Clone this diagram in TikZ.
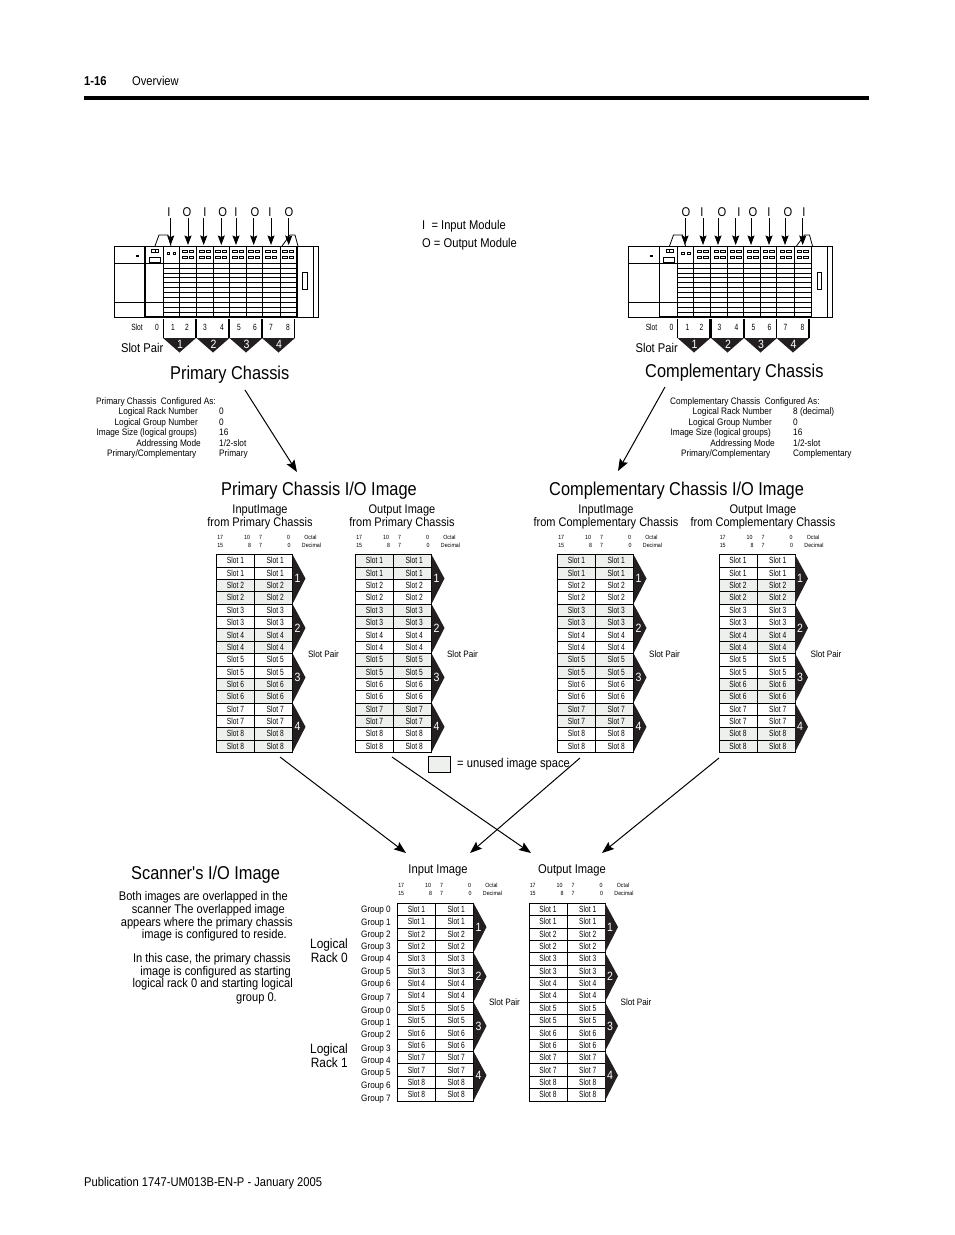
\documentclass[tikz,border=0pt]{standalone}
\usepackage{fontspec}
\setmainfont[FakeStretch=0.88]{Liberation Sans}
\newfontfamily\cellfont[FakeStretch=0.74]{Liberation Sans}
\newfontfamily\titlefont[FakeStretch=0.88]{Liberation Sans}
\usepackage{tikz}
\usetikzlibrary{positioning,arrows.meta}

\definecolor{unused}{HTML}{EEF0EE}
\definecolor{inkblack}{HTML}{231F20}
\newcommand{\fsize}[1]{\fontsize{#1}{#1}\selectfont}

% one image table: name, left x, top y, fill of odd slots, fill of even slots
\newcommand{\imagetable}[5]{
  \foreach \rowno in {1,...,16} {
    \pgfmathtruncatemacro{\slotno}{(\rowno+1)/2}
    \pgfmathsetmacro{\rowy}{#3+(\rowno-0.5)*12.36}
    \ifodd\slotno \def\cellfill{#4}\else \def\cellfill{#5}\fi
    \node[slotcell, fill=\cellfill] (#1l\rowno) at (#2+19,\rowy) {Slot \slotno\hspace{3pt}};
    \node[slotcell, fill=\cellfill] (#1r\rowno) at (#2+57,\rowy) {\hspace{3.5pt}Slot \slotno};
  }
  \foreach \pairno in {1,...,4} {
    \pgfmathsetmacro{\chevy}{#3+(\pairno-1)*49.44}
    \fill[inkblack] (#2+76,\chevy) -- (#2+89,\chevy+24) -- (#2+76,\chevy+49.44) -- cycle;
    \node[pairnum] (#1p\pairno) at (#2+81,\chevy+24) {\pairno};
  }
  \node[hdr] (#1a) at (#2+3.7,#3-17.5) {17};
  \node[hdr] (#1b) at (#2+30.6,#3-17.5) {10};
  \node[hdr] (#1c) at (#2+44,#3-17.5) {7};
  \node[hdr] (#1d) at (#2+72,#3-17.5) {0};
  \node[hdr] (#1e) at (#2+94,#3-17.5) {Octal};
  \node[hdr] (#1f) at (#2+3.7,#3-9.5) {15};
  \node[hdr] (#1g) at (#2+33,#3-9.5) {8};
  \node[hdr] (#1h) at (#2+44,#3-9.5) {7};
  \node[hdr] (#1i) at (#2+72.5,#3-9.5) {0};
  \node[hdr] (#1j) at (#2+95,#3-9.5) {Decimal};
  \node[small] (#1sp) at (#2+107,#3+99.5) {Slot Pair};
}

% the SLC chassis: name, x shift, list of arrow x / label x / label
\newcommand{\slcchassis}[3]{
  \begin{scope}[xshift=#2pt]
    \draw[thick] (114,246) rectangle (318,317);
    \draw[very thick] (145,246) -- (145,317) -- (297,317) -- (297,246);
    \draw (312.7,246) -- (312.7,317);
    \draw (114,263) -- (145,263) (114,302) -- (145,302) (145,263) -- (163,263) (145,302) -- (163,302);
    \draw[thick] (163,246) -- (163,317);
    \foreach \hy in {263,268,273,277,282,287,292,297,302,307,312} \draw (163,\hy) -- (297,\hy);
    \foreach \dx in {179,213,246,280} \draw (\dx,246) -- (\dx,317);
    \foreach \dx in {196,229,262} \draw[thick] (\dx,246) -- (\dx,317);
    \foreach \mx in {188,205,221,238,254,271,288} {
      \draw (\mx-5.5,250) rectangle ++(4.6,2.5) (\mx+0.9,250) rectangle ++(4.6,2.5);
      \draw (\mx-5.5,256) rectangle ++(4.6,2.5) (\mx+0.9,256) rectangle ++(4.6,2.5);
    }
    \draw (167,252) rectangle ++(2.5,2.5) (173,252) rectangle ++(2.5,2.5);
    \draw (151.5,249) rectangle ++(3.5,3) (155,249) rectangle ++(3.5,3) (149,257) rectangle ++(11,5);
    \fill (135.5,255) rectangle ++(3,2);
    \draw[thick] (302.5,272) rectangle (307,289);
    \draw[thick] (155,246) -- (159,235) -- (168,235) -- (171,246);
    \draw[thick] (282,246) -- (290,235) -- (295,235) -- (298,246);
    % slot numbers under the modules
    \node[chassisnum] (#1slot) at (137,327) {Slot};
    \node[chassisnum] (#1zero) at (157,327) {0};
    \foreach \sx/\sn in {173/1,187/2,205/3,222/4,239/5,255/6,271/7,288/8}
      \node[chassisnum] (#1s\sn) at (\sx,327) {\sn};
    \foreach \pn/\px in {1/163,2/196.5,3/229.5,4/262} {
      \draw (\px,319) -- (\px,338);
      \draw[very thick] (\px+32.5,319) -- (\px+32.5,338);
      \fill[inkblack] (\px,338) -- (\px+33,338) -- (\px+16.5,352.5) -- cycle;
      \node[pairnum] (#1n\pn) at (\px+17,344.5) {\pn};
    }
    \node[plain, anchor=east] (#1pair) at (163.5,348) {Slot Pair};
  \end{scope}
  \foreach \ax/\lx/\lab [count=\k] in {#3} {
    \node[plain] (#1lab\k) at (\lx,212) {\lab};
    \coordinate (#1top\k) at (\ax,218);
    \coordinate (#1mod\k) at (\ax,245);
    \draw[modarrow] (#1top\k) -- (#1mod\k);
  }
}

% the block of settings under a chassis: name, x shift, title, rack, role
\newcommand{\configblock}[5]{
  \begin{scope}[xshift=#2pt]
    \node[config, anchor=base west] (#1t) at (96,404) {#3};
    \node[config, anchor=base east] (#1a) at (198,414) {Logical Rack Number};
    \node[config, anchor=base west] (#1av) at (219,414) {#4};
    \node[config, anchor=base east] (#1b) at (198,425) {Logical Group Number};
    \node[config, anchor=base west] (#1bv) at (219,425) {0};
    \node[config, anchor=base east] (#1c) at (197,435) {Image Size (logical groups)};
    \node[config, anchor=base west] (#1cv) at (219,435) {16};
    \node[config, anchor=base east] (#1d) at (201,446) {Addressing Mode};
    \node[config, anchor=base west] (#1dv) at (219,446) {1/2-slot};
    \node[config, anchor=base east] (#1e) at (196.5,456.5) {Primary/Complementary};
    \node[config, anchor=base west] (#1ev) at (219,456.5) {#5};
  \end{scope}
}

\begin{document}
\begin{tikzpicture}[
  x=1pt, y=-1pt,
  plain/.style={inner sep=0pt, font=\fsize{12.7}},
  title/.style={inner sep=0pt, anchor=west, font=\titlefont\fsize{18.6}},
  caption/.style={inner sep=0pt, align=center, font=\fontsize{12.5}{13}\selectfont},
  small/.style={inner sep=0pt, font=\fsize{9.3}},
  chassisnum/.style={inner sep=0pt, font=\cellfont\fsize{9}},
  config/.style={inner sep=0pt, font=\fsize{9.4}},
  hdr/.style={inner sep=0pt, font=\fsize{6}},
  slotcell/.style={draw, inner sep=0pt, minimum width=38pt, minimum height=12.36pt, font=\cellfont\fsize{9}},
  pairnum/.style={inner sep=0pt, text=white, font=\fsize{12}},
  modarrow/.style={-{Stealth[length=9.5pt,width=7pt,inset=1.5pt]}, line width=0.9pt},
  bigarrow/.style={-{Stealth[length=12pt,width=9pt,inset=2pt]}, line width=1pt},
  paraline/.style={inner sep=0pt, anchor=base east, font=\fsize{12.6}}
]
  \useasboundingbox (0,0) rectangle (954,1235);

  % page head and foot
  \node[plain, anchor=west, font=\fsize{12.8}\bfseries] (pageno) at (84,81) {1-16};
  \node[plain, anchor=west] (section) at (132,81) {Overview};
  \coordinate (ruleleft) at (84,98);
  \coordinate (ruleright) at (869,98);
  \draw[line width=4pt] (ruleleft) -- (ruleright);
  \node[plain, anchor=west] (foot) at (84,1183) {Publication 1747-UM013B-EN-P - January 2005};

  % chassis
  \slcchassis{pc}{0}{170.7/169/I,188/187/O,203.7/205/I,221.3/222.7/O,236/236/I,253.7/255/O,271/270/I,288.7/289/O}
  \slcchassis{cc}{514.5}{685/686/O,703/702/I,718/722/O,735.7/739/I,751/753/O,769/769/I,785/788/O,802.7/804/I}
  \node[plain, anchor=west] (keyi) at (422,226) {I\ \ = Input Module};
  \node[plain, anchor=west] (keyo) at (422,244) {O\ = Output Module};
  \node[title] (pctitle) at (170,375) {Primary Chassis};
  \node[title] (cctitle) at (645,373) {Complementary Chassis};
  \configblock{pcfg}{0}{Primary Chassis\ \ Configured As:}{0}{Primary}
  \configblock{ccfg}{574}{Complementary Chassis\ \ Configured As:}{8 (decimal)}{Complementary}

  % chassis images
  \node[title] (piotitle) at (221,491) {Primary Chassis I/O Image};
  \node[title] (ciotitle) at (549,491) {Complementary Chassis I/O Image};
  \node[caption] (cap1) at (260,516.5) {InputImage\\from Primary Chassis};
  \node[caption] (cap2) at (402,516.5) {Output Image\\from Primary Chassis};
  \node[caption] (cap3) at (606,516.5) {InputImage\\from Complementary Chassis};
  \node[caption] (cap4) at (763,516.5) {Output Image\\from Complementary Chassis};
  \imagetable{ta}{216.5}{554.5}{white}{unused}
  \imagetable{tb}{355.5}{554.5}{unused}{white}
  \imagetable{tc}{557.5}{554.5}{unused}{white}
  \imagetable{td}{719}{554.5}{white}{unused}
  \node[draw, fill=unused, minimum width=22pt, minimum height=16pt, inner sep=0pt] (legend) at (439,764) {};
  \node[plain, anchor=west] (legendtext) at (457,764) {= unused image space};

  \coordinate (a1) at (245,390);   \coordinate (a2) at (297,472);
  \coordinate (b1) at (665,387);   \coordinate (b2) at (618,471);
  \coordinate (c1) at (280,757);   \coordinate (c2) at (406,853);
  \coordinate (d1) at (392,757);   \coordinate (d2) at (531,853);
  \coordinate (e1) at (580,758);   \coordinate (e2) at (470,853);
  \coordinate (f1) at (719,758);   \coordinate (f2) at (602,853);
  \foreach \arrowname in {a,b,c,d,e,f}
    \draw[bigarrow] (\arrowname1) -- (\arrowname2);

  % scanner
  \node[title] (sctitle) at (131,875) {Scanner's I/O Image};
  \foreach \ly/\lx/\ltxt [count=\k] in {
    900/288/{Both images are overlapped in the},
    913/285/{scanner The overlapped image},
    926/293/{appears where the primary chassis},
    938/287/{image is configured to reside.},
    962/291/{In this case, the primary chassis},
    975/291/{image is configured as starting},
    987/293/{logical rack 0 and starting logical},
    1001/277/{group 0.}}
    \node[paraline] (para\k) at (\lx,\ly) {\ltxt};
  \node[plain, anchor=east, align=right, font=\fontsize{13.5}{14}\selectfont] (rack0) at (348,951) {Logical\\Rack 0};
  \node[plain, anchor=east, align=right, font=\fontsize{13.5}{14}\selectfont] (rack1) at (348,1056) {Logical\\Rack 1};
  \node[plain] (inimg) at (438,870) {Input Image};
  \node[plain] (outimg) at (572,870) {Output Image};
  \foreach \gy/\gn in {910/0,923/1,935/2,947/3,959/4,972/5,984/6,998/7,1011/0,1023/1,1035/2,1049/3,1061/4,1073/5,1086/6,1099/7}
    \node[small, anchor=west] (group\gy) at (361,\gy) {Group \gn};
  \imagetable{te}{397.5}{903}{white}{white}
  \imagetable{tf}{529}{903}{white}{white}
\end{tikzpicture}
\end{document}
